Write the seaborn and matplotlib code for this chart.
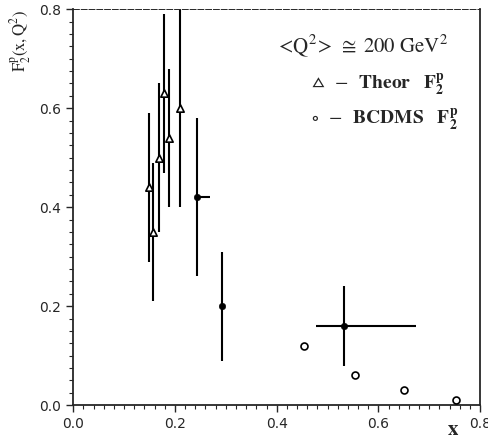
import numpy as np
import pandas as pd
import matplotlib
matplotlib.use("Agg")
import matplotlib.pyplot as plt
import seaborn as sns
from matplotlib.ticker import MultipleLocator

# Theor F2 (open triangles)
theor_x = [0.149, 0.157, 0.168, 0.178, 0.189, 0.209]
theor_y = [0.44, 0.35, 0.50, 0.63, 0.54, 0.60]
theor_err = [0.15, 0.14, 0.15, 0.16, 0.14, 0.20]

# Theor F2 (filled points, with x bars)
fill_x = [0.243, 0.292, 0.533]
fill_y = [0.42, 0.20, 0.16]
fill_yerr = [0.16, 0.11, 0.08]
fill_xerr_lo = [0.0, 0.0, 0.055]
fill_xerr_hi = [0.025, 0.0, 0.14]

# BCDMS F2 (open circles)
bcdms_x = [0.453, 0.553, 0.651, 0.752]
bcdms_y = [0.12, 0.06, 0.03, 0.01]

sns.set_style("ticks")
plt.rcParams["mathtext.fontset"] = "stix"

fig = plt.figure(figsize=(4.88, 4.38), dpi=100)
ax = fig.add_axes([0.150, 0.075, 0.834, 0.904])

# error bars
ax.errorbar(theor_x, theor_y, yerr=theor_err, fmt="none", ecolor="black",
            elinewidth=1.5, capsize=0)
ax.errorbar(fill_x, fill_y, yerr=fill_yerr, xerr=[fill_xerr_lo, fill_xerr_hi],
            fmt="none", ecolor="black", elinewidth=1.5, capsize=0)

theor_df = pd.DataFrame({"x": theor_x, "y": theor_y})
fill_df = pd.DataFrame({"x": fill_x, "y": fill_y})
bcdms_df = pd.DataFrame({"x": bcdms_x, "y": bcdms_y})

sns.scatterplot(data=theor_df, x="x", y="y", marker="^", s=28,
                facecolor="white", edgecolor="black", linewidth=1.2, ax=ax, zorder=3)
sns.scatterplot(data=fill_df, x="x", y="y", marker="o", s=22,
                color="black", edgecolor="black", ax=ax, zorder=3)
sns.scatterplot(data=bcdms_df, x="x", y="y", marker="o", s=25,
                facecolor="white", edgecolor="black", linewidth=1.2, ax=ax, zorder=3)

ax.set_xlim(0, 0.8)
ax.set_ylim(0, 0.8)
ax.xaxis.set_major_locator(MultipleLocator(0.2))
ax.xaxis.set_minor_locator(MultipleLocator(0.02))
ax.yaxis.set_major_locator(MultipleLocator(0.2))
ax.yaxis.set_minor_locator(MultipleLocator(0.025))
ax.set_xticklabels([f"{v:.1f}" for v in ax.get_xticks()])
ax.set_yticklabels([f"{v:.1f}" for v in ax.get_yticks()])
ax.tick_params(which="major", direction="out", length=5, width=1, labelsize=10)
ax.tick_params(which="minor", direction="out", length=3, width=0.8)

for side in ["left", "bottom", "right"]:
    ax.spines[side].set_linewidth(1.3)
ax.spines["top"].set_linewidth(0.7)
ax.spines["top"].set_linestyle((0, (6, 2)))

ax.set_xlabel(r"$\mathbf{x}$", fontsize=15)
ax.xaxis.set_label_coords(0.934, -0.035)
ax.set_ylabel(r"$\mathrm{F_2^p(x,Q^2)}$", fontsize=12)
ax.yaxis.set_label_coords(-0.10, 0.92)

ax.text(0.397, 0.727, r"$<\!\mathrm{Q^2}\!>\;\cong\;200\ \mathrm{GeV^2}$",
        fontsize=15, ha="left", va="center")
ax.text(0.468, 0.646, r"$\vartriangle\;\;-\;\;\mathbf{Theor}\ \ \ \mathbf{F_2^p}$",
        fontsize=14, ha="left", va="center")
ax.text(0.468, 0.576, r"$\circ\;\;-\;\;\mathbf{BCDMS}\ \ \ \mathbf{F_2^p}$",
        fontsize=14, ha="left", va="center")

fig.savefig("out.png", dpi=100)
